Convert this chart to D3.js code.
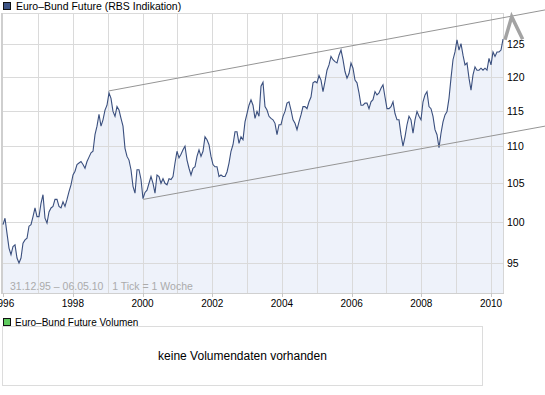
<!DOCTYPE html>
<html>
<head>
<meta charset="utf-8">
<script src="https://cdn.jsdelivr.net/npm/d3@7"></script>
<style>
  html, body { margin: 0; padding: 0; background: #fff; }
  svg { display: block; }
  text { font-family: "Liberation Sans", Arial, sans-serif; }
</style>
</head>
<body>
<div id="chart"></div>
<script>
// Euro-Bund Future, one value every three weeks, 31.12.95 - 06.05.10
const startDate = new Date(1995, 11, 31);
const endDate = new Date(2010, 4, 6);

const prices1996_1999 = [
  99.7, 100.5, 98.6, 96.8, 96.0, 97.0, 97.2, 95.6, 95.0, 95.6, 97.4, 97.8, 98.0,
  99.5, 99.7, 100.7, 101.8, 100.7, 100.7, 102.4, 103.5, 100.5, 99.9, 101.3, 101.8,
  102.0, 102.9, 102.9, 102.0, 101.8, 102.6, 102.0, 102.9, 103.9, 104.8, 106.1,
  106.6, 107.5, 107.7, 107.9, 107.5, 107.0, 107.9, 108.5, 109.1, 109.3, 111.6,
  112.8, 114.5, 112.8, 113.7, 115.1, 115.8, 117.6, 116.8, 114.9, 114.2, 115.6,
  115.1, 113.9, 112.8, 109.7, 108.6
];
const prices1999_2003 = [
  108.1, 106.8, 104.6, 103.7, 106.8, 106.8, 105.5, 103.0, 103.8, 104.1, 105.0,
  105.9, 105.0, 103.7, 106.1, 105.9, 105.0, 105.6, 105.0, 104.8, 105.6, 105.5,
  105.9, 107.7, 109.3, 108.4, 108.9, 109.5, 110.0, 108.1, 107.0, 106.1, 107.0,
  107.2, 108.6, 109.5, 108.6, 109.3, 111.3, 110.9, 110.2, 108.6, 107.5, 107.2,
  107.2, 105.9, 106.1, 105.9, 105.9, 106.5, 107.7, 109.3, 110.2, 112.0, 112.0,
  110.4, 111.3, 110.9, 113.4, 114.6, 115.8, 116.6, 115.8
];
const prices2003_2006 = [
  113.9, 114.9, 114.2, 118.6, 119.2, 115.6, 115.1, 114.2, 113.9, 113.7, 113.2,
  111.6, 113.0, 113.0, 114.2, 114.9, 116.1, 116.3, 115.1, 113.7, 113.2, 112.3,
  113.4, 114.4, 115.6, 115.6, 115.3, 116.3, 117.0, 119.1, 119.3, 119.1, 120.2,
  119.5, 117.8, 119.3, 121.0, 121.8, 123.1, 122.6, 122.3, 122.1, 123.3, 124.1,
  122.6, 120.8, 119.8, 120.5, 122.1, 121.3, 119.5, 119.1, 117.6, 115.8, 115.8,
  116.1, 116.1, 115.3, 116.3, 116.6, 117.8, 117.3
];
const prices2006_2010 = [
  117.6, 118.3, 118.8, 117.0, 115.3, 115.3, 115.6, 116.3, 114.6, 113.7, 113.7,
  111.6, 110.0, 111.3, 113.0, 114.2, 113.7, 111.8, 113.7, 114.9, 114.2, 113.7,
  116.3, 117.3, 117.8, 115.6, 115.3, 114.2, 112.3, 111.6, 109.8, 111.8, 113.4,
  114.4, 114.9, 116.8, 119.8, 122.6, 123.8, 125.7, 124.1, 125.1, 123.3, 121.8,
  122.1, 119.8, 118.0, 120.3, 121.5, 121.0, 121.0, 121.3, 121.0, 121.3, 121.0,
  122.8, 121.8, 123.8, 123.1, 123.8, 123.8, 124.1, 125.8
];

const yTicks = [95, 100, 105, 110, 115, 120, 125, 130];
const yearLabels = [1996, 1998, 2000, 2002, 2004, 2006, 2008, 2010];

// trend channel and the arrow mark, as [date, price]
const upperTrend = [["1999-01-15", 117.9], ["2011-07-20", 130.5]];
const lowerTrend = [["2000-01-09", 102.9], ["2011-07-20", 112.8]];
const arrowPoints = [["2010-05-27", 125.7], ["2010-08-05", 129.4], ["2010-11-28", 125.8]];

const width = 545, height = 395;
const plot = { left: 3, right: 503, top: 13, bottom: 293 };

const parse = d3.timeParse('%Y-%m-%d');
const prices = prices1996_1999.concat(prices1999_2003, prices2003_2006, prices2006_2010);
const step = (endDate - startDate) / (prices.length - 1);
const series = prices.map((v, i) => ({ date: new Date(+startDate + i * step), value: v }));

const x = d3.scaleTime().domain([startDate, endDate]).range([plot.left, plot.right]);
const y = d3.scaleLog().domain([91.5, 130]).range([plot.bottom, plot.top]);

const svg = d3.select('#chart').append('svg')
  .attr('width', width)
  .attr('height', height);

// legend, price panel
svg.append('rect')
  .attr('x', 3.5).attr('y', 2.5).attr('width', 7).attr('height', 7)
  .attr('fill', '#3d5485').attr('stroke', '#111');
svg.append('text')
  .attr('x', 16).attr('y', 10)
  .attr('font-size', '10.5px')
  .attr('fill', '#000')
  .text('Euro\u2013Bund Future (RBS Indikation)');

// area under the line
const area = d3.area()
  .x(d => x(d.date))
  .y0(plot.bottom)
  .y1(d => y(d.value));
svg.append('path')
  .datum(series)
  .attr('d', area)
  .attr('fill', '#eef2fa');

// grid
const years = d3.timeYear.range(new Date(1997, 0, 1), endDate);
svg.append('g')
  .selectAll('line')
  .data(years)
  .enter()
  .append('line')
  .attr('x1', d => Math.round(x(d)) + 0.5)
  .attr('x2', d => Math.round(x(d)) + 0.5)
  .attr('y1', plot.top)
  .attr('y2', plot.bottom)
  .attr('stroke', '#dadada');

svg.append('g')
  .selectAll('line')
  .data(yTicks)
  .enter()
  .append('line')
  .attr('x1', plot.left)
  .attr('x2', plot.right)
  .attr('y1', d => Math.round(y(d)) + 0.5)
  .attr('y2', d => Math.round(y(d)) + 0.5)
  .attr('stroke', '#dadada');

// plot frame
svg.append('line')
  .attr('x1', plot.right + 0.5).attr('x2', plot.right + 0.5)
  .attr('y1', plot.top).attr('y2', plot.bottom)
  .attr('stroke', '#d6d6d6');
svg.append('line')
  .attr('x1', plot.left).attr('x2', plot.right + 1)
  .attr('y1', plot.bottom + 0.5).attr('y2', plot.bottom + 0.5)
  .attr('stroke', '#d0d0d0');
svg.append('rect')
  .attr('x', 1).attr('y', plot.top)
  .attr('width', 2).attr('height', plot.bottom - plot.top + 1)
  .attr('fill', '#cfcfcf');

// date range note
svg.append('text')
  .attr('x', 10).attr('y', 290)
  .attr('font-size', '10.5px')
  .attr('fill', '#ababab')
  .attr('xml:space', 'preserve')
  .style('white-space', 'pre')
  .text('31.12.95 \u2013 06.05.10   1 Tick = 1 Woche');

// price line
const line = d3.line()
  .x(d => x(d.date))
  .y(d => y(d.value));
svg.append('path')
  .datum(series)
  .attr('d', line)
  .attr('fill', 'none')
  .attr('stroke', '#3a4f7e')
  .attr('stroke-width', 1.1);

// trend channel
const trendLine = d3.line()
  .x(d => x(parse(d[0])))
  .y(d => y(d[1]));
[upperTrend, lowerTrend].forEach(t => {
  svg.append('path')
    .attr('d', trendLine(t))
    .attr('fill', 'none')
    .attr('stroke', '#959595')
    .attr('stroke-width', 1);
});

svg.append('path')
  .attr('d', trendLine(arrowPoints))
  .attr('fill', 'none')
  .attr('stroke', '#a3a3a3')
  .attr('stroke-width', 3.5);

// right axis labels
svg.append('g')
  .selectAll('text')
  .data(yTicks.filter(d => d < 130))
  .enter()
  .append('text')
  .attr('x', 507)
  .attr('y', d => y(d))
  .attr('dy', '0.36em')
  .attr('font-size', '10.5px')
  .attr('fill', '#000')
  .text(d => d);

// bottom axis
const labelDates = yearLabels.map(yr => new Date(yr, 0, 1));
svg.append('g')
  .selectAll('line')
  .data(labelDates)
  .enter()
  .append('line')
  .attr('x1', d => Math.round(x(d)) + 0.5)
  .attr('x2', d => Math.round(x(d)) + 0.5)
  .attr('y1', plot.bottom)
  .attr('y2', plot.bottom + 4)
  .attr('stroke', '#c8c8c8');
svg.append('g')
  .selectAll('text')
  .data(labelDates)
  .enter()
  .append('text')
  .attr('x', d => x(d))
  .attr('y', 307)
  .attr('text-anchor', 'middle')
  .attr('font-size', '10px')
  .attr('fill', '#000')
  .text(d => d.getFullYear());

// volume panel
svg.append('rect')
  .attr('x', 3.5).attr('y', 318.5).attr('width', 7).attr('height', 7)
  .attr('fill', '#5fcb5f').attr('stroke', '#111');
svg.append('text')
  .attr('x', 15).attr('y', 326)
  .attr('font-size', '10px')
  .attr('fill', '#000')
  .text('Euro\u2013Bund Future Volumen');
svg.append('rect')
  .attr('x', 2.5).attr('y', 326.5)
  .attr('width', 480).attr('height', 59)
  .attr('fill', '#fff')
  .attr('stroke', '#dcdcdc');
svg.append('text')
  .attr('x', 242.5).attr('y', 356)
  .attr('dy', '0.35em')
  .attr('text-anchor', 'middle')
  .attr('font-size', '12px')
  .attr('fill', '#000')
  .text('keine Volumendaten vorhanden');
</script>
</body>
</html>
